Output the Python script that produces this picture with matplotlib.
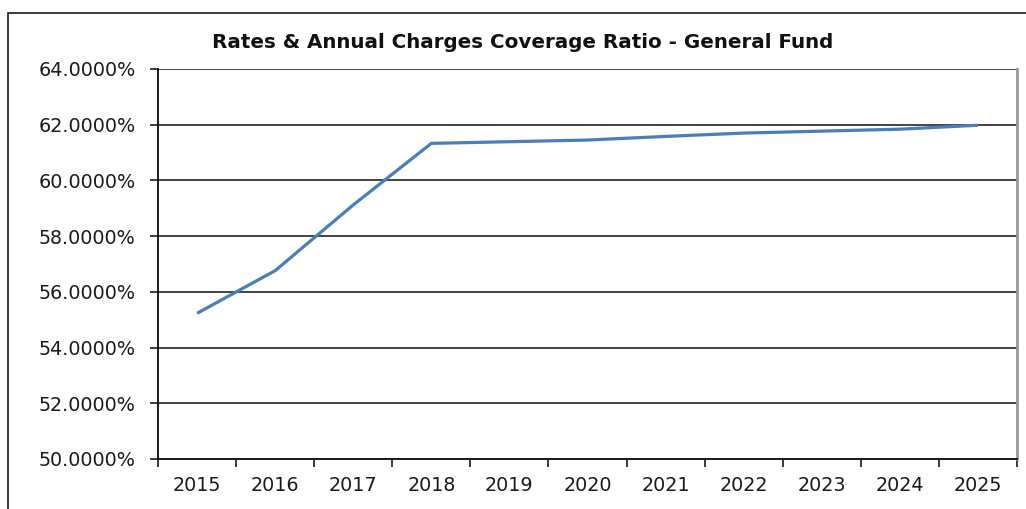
import matplotlib
matplotlib.use("Agg")
import matplotlib.pyplot as plt
from matplotlib.patches import Rectangle
from matplotlib.ticker import FixedLocator, NullFormatter, FixedFormatter

years = ["2015", "2016", "2017", "2018", "2019", "2020", "2021", "2022", "2023", "2024", "2025"]
ratio = [55.23, 56.76, 59.12, 61.33, 61.39, 61.45, 61.58, 61.70, 61.77, 61.84, 61.98]
y_ticks = [50, 52, 54, 56, 58, 60, 62, 64]
title = "Rates & Annual Charges Coverage Ratio - General Fund"

W, H, DPI = 1026, 509, 100
fig = plt.figure(figsize=(W / DPI, H / DPI), dpi=DPI)
plt.rcParams['font.family'] = ['DejaVu Sans']

# outer chart frame
fig.patches.append(Rectangle((7.5 / W, -0.1), 1.2, 1.1 - 12.5 / H,
                             transform=fig.transFigure, fill=False,
                             edgecolor="#1a1a1a", linewidth=1.2))

left, right, top, bottom = 158, 1017, 69, 459
ax = fig.add_axes([left / W, 1 - bottom / H, (right - left) / W, (bottom - top) / H])

x = list(range(len(years)))
ax.plot(x, ratio, color="#4A7EBB", linewidth=2.3, solid_capstyle="butt", zorder=3)

ax.set_xlim(-0.5, len(years) - 0.5)
ax.set_ylim(50, 64)

# y axis
ax.set_yticks(y_ticks)
ax.set_yticklabels([f"{v:.4f}%" for v in y_ticks], fontsize=13.8, color="#1a1a1a")
ax.tick_params(axis="y", direction="out", length=6, width=1.2, pad=10, color="#1a1a1a")
ax.yaxis.grid(True, color="#111111", linewidth=1.1)
ax.set_axisbelow(True)

# x axis: ticks at boundaries, labels at centres
ax.xaxis.set_major_locator(FixedLocator([i - 0.5 for i in range(len(years) + 1)]))
ax.xaxis.set_major_formatter(NullFormatter())
ax.xaxis.set_minor_locator(FixedLocator(x))
ax.xaxis.set_minor_formatter(FixedFormatter(years))
ax.tick_params(axis="x", which="major", direction="out", length=6, width=1.2, color="#1a1a1a")
ax.tick_params(axis="x", which="minor", length=0, pad=12, labelsize=13.8, labelcolor="#1a1a1a")

for s in ("left", "bottom"):
    ax.spines[s].set_color("#1a1a1a")
    ax.spines[s].set_linewidth(1.4)
ax.spines["top"].set_visible(False)
ax.spines["right"].set_color("#999999")
ax.spines["right"].set_linewidth(2)

fig.text(523 / W, 1 - 43 / H, title, ha="center", va="center",
         fontsize=14.3, fontweight="bold", color="#111111")

fig.savefig("out.png", dpi=DPI)
